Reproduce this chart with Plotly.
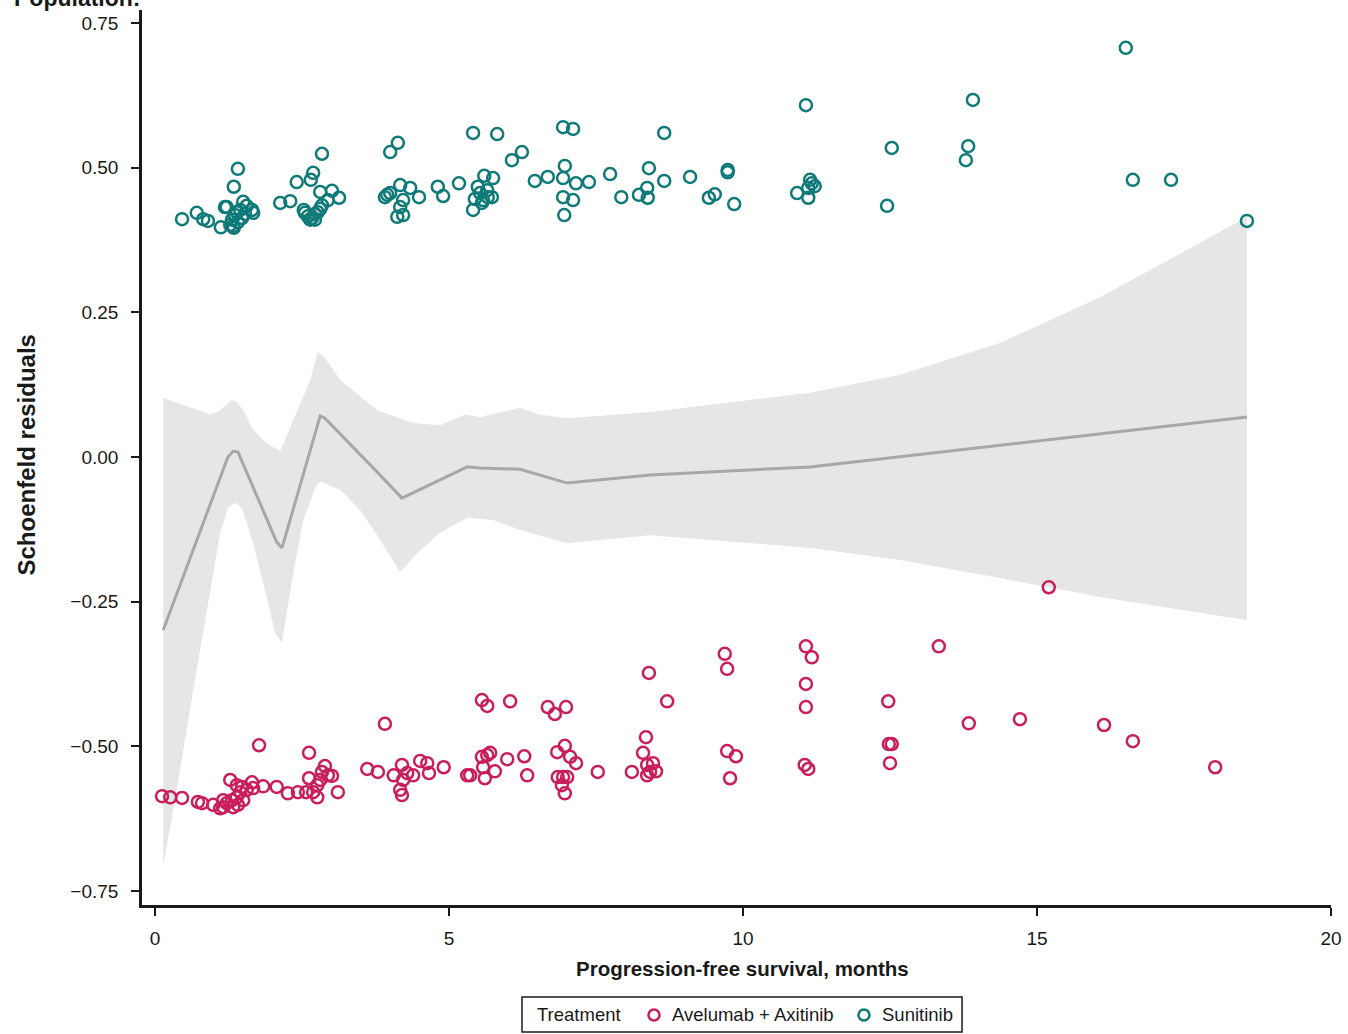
import plotly.graph_objects as go

# Schoenfeld residuals by treatment arm (x: PFS in months, y: residual)
avelumab_x = [0.12, 0.26, 0.46, 0.73, 0.80, 0.99, 1.16, 1.16, 1.28, 1.77,
              1.11, 1.22, 1.31, 1.39, 1.45, 1.33, 1.41, 1.50, 1.48, 1.56,
              1.65, 1.39, 1.67, 1.84, 2.07, 2.26, 2.43, 2.57, 2.62, 2.62,
              2.69, 2.76, 2.84, 2.89, 2.94, 3.01, 3.11, 2.76, 2.81, 3.61,
              3.79, 3.91, 4.06, 4.20, 4.22, 4.17, 4.20, 4.29, 4.39, 4.51,
              4.63, 4.66, 4.91, 5.31, 5.36, 5.56, 5.65, 5.70, 5.58, 5.78,
              5.61, 5.99, 6.28, 6.33, 5.56, 5.65, 6.04, 6.68, 6.80, 6.99,
              6.84, 6.97, 7.06, 7.16, 6.85, 6.94, 7.01, 6.92, 6.97, 7.53,
              8.11, 8.37, 8.47, 8.42, 8.52, 8.37, 8.40, 8.71, 8.35, 8.30,
              9.69, 9.73, 9.73, 9.88, 9.78, 11.07, 11.17, 11.07, 11.07, 11.05,
              11.11, 13.33, 12.47, 12.53, 12.48, 12.50, 13.84, 14.71, 15.20, 16.14,
              16.63, 18.03]
avelumab_y = [-0.586, -0.588, -0.589, -0.596, -0.598, -0.601, -0.605, -0.593, -0.558, -0.498,
              -0.607, -0.598, -0.593, -0.588, -0.579, -0.605, -0.601, -0.593, -0.570, -0.575,
              -0.562, -0.567, -0.572, -0.569, -0.570, -0.581, -0.579, -0.579, -0.511, -0.555,
              -0.579, -0.567, -0.544, -0.534, -0.550, -0.551, -0.579, -0.588, -0.558, -0.539,
              -0.544, -0.461, -0.550, -0.532, -0.558, -0.575, -0.584, -0.546, -0.550, -0.525,
              -0.529, -0.546, -0.536, -0.550, -0.550, -0.518, -0.515, -0.511, -0.536, -0.543,
              -0.555, -0.522, -0.517, -0.550, -0.420, -0.430, -0.422, -0.432, -0.444, -0.432,
              -0.510, -0.499, -0.518, -0.529, -0.553, -0.553, -0.553, -0.567, -0.581, -0.544,
              -0.544, -0.532, -0.529, -0.544, -0.543, -0.550, -0.373, -0.422, -0.484, -0.511,
              -0.340, -0.366, -0.508, -0.517, -0.555, -0.327, -0.346, -0.392, -0.432, -0.532,
              -0.539, -0.327, -0.422, -0.496, -0.496, -0.529, -0.460, -0.453, -0.225, -0.463,
              -0.491, -0.536]

sunitinib_x = [0.46, 0.71, 0.82, 0.90, 1.19, 1.12, 1.34, 1.41, 1.22, 1.50,
               1.56, 1.65, 1.67, 1.28, 1.31, 1.36, 1.39, 1.45, 1.34, 1.41,
               1.48, 1.53, 1.33, 2.13, 2.30, 2.41, 2.65, 2.69, 2.84, 2.53,
               2.55, 2.60, 2.67, 2.72, 2.77, 2.81, 2.84, 2.64, 2.72, 2.81,
               3.01, 3.13, 2.94, 4.00, 4.13, 3.95, 3.91, 4.00, 4.17, 4.34,
               4.49, 4.22, 4.17, 4.12, 4.22, 4.81, 4.90, 5.17, 5.41, 5.82,
               6.07, 6.24, 5.60, 5.75, 5.49, 5.53, 5.44, 5.66, 5.73, 5.41,
               5.58, 5.65, 5.56, 6.46, 6.68, 6.94, 7.11, 6.97, 6.94, 6.94,
               7.11, 7.16, 7.38, 6.96, 7.74, 7.93, 8.23, 8.37, 8.38, 8.40,
               8.66, 8.66, 9.10, 9.42, 9.52, 9.74, 9.74, 9.85, 10.92, 11.07,
               11.14, 11.17, 11.11, 11.22, 11.11, 12.45, 12.53, 13.79, 13.83, 13.91,
               16.51, 16.63, 17.28, 18.57]
sunitinib_y = [0.411, 0.422, 0.411, 0.408, 0.432, 0.397, 0.467, 0.498, 0.432, 0.441,
               0.434, 0.427, 0.422, 0.401, 0.410, 0.418, 0.423, 0.427, 0.396, 0.406,
               0.413, 0.420, 0.399, 0.439, 0.442, 0.475, 0.479, 0.491, 0.524, 0.427,
               0.422, 0.416, 0.413, 0.420, 0.423, 0.429, 0.435, 0.410, 0.410, 0.458,
               0.460, 0.448, 0.444, 0.527, 0.543, 0.453, 0.449, 0.456, 0.470, 0.465,
               0.449, 0.444, 0.432, 0.415, 0.418, 0.467, 0.451, 0.473, 0.560, 0.558,
               0.513, 0.527, 0.486, 0.482, 0.467, 0.456, 0.446, 0.449, 0.449, 0.427,
               0.444, 0.461, 0.439, 0.477, 0.484, 0.570, 0.567, 0.503, 0.482, 0.449,
               0.444, 0.473, 0.475, 0.418, 0.489, 0.449, 0.453, 0.465, 0.448, 0.499,
               0.560, 0.477, 0.484, 0.448, 0.454, 0.496, 0.492, 0.437, 0.456, 0.608,
               0.479, 0.473, 0.465, 0.468, 0.448, 0.434, 0.534, 0.513, 0.537, 0.617,
               0.707, 0.479, 0.479, 0.408]

# Smoothed residual trend and its confidence band
smooth_x = [0.14, 1.24, 1.33, 1.41, 2.07, 2.16, 2.81, 2.89, 3.78, 4.20,
            5.31, 5.53, 6.21, 7.01, 8.42, 11.14, 18.57]
smooth_y = [-0.299, 0.000, 0.010, 0.009, -0.147, -0.157, 0.071, 0.067, -0.026, -0.071,
            -0.017, -0.019, -0.021, -0.045, -0.031, -0.017, 0.069]

upper_x = [0.14, 0.94, 1.07, 1.31, 1.39, 1.50, 1.67, 1.90, 2.13, 2.41,
           2.64, 2.77, 2.89, 3.15, 3.78, 4.39, 4.85, 5.27, 5.53, 6.21,
           6.55, 7.01, 8.42, 11.14, 12.67, 14.37, 16.07, 17.77, 18.57]
upper_y = [0.102, 0.074, 0.078, 0.099, 0.095, 0.081, 0.047, 0.024, 0.010, 0.076,
           0.133, 0.181, 0.171, 0.133, 0.081, 0.059, 0.055, 0.073, 0.069, 0.085,
           0.073, 0.067, 0.078, 0.111, 0.142, 0.197, 0.276, 0.370, 0.415]
lower_x = [0.14, 0.34, 0.68, 1.11, 1.24, 1.36, 1.48, 1.67, 1.90, 2.04,
           2.16, 2.33, 2.52, 2.76, 2.84, 3.15, 3.49, 3.83, 4.17, 4.46,
           4.85, 5.31, 5.75, 6.21, 7.01, 8.42, 11.14, 12.67, 14.37, 16.07, 18.57]
lower_y = [-0.705, -0.593, -0.385, -0.131, -0.088, -0.079, -0.088, -0.149, -0.242, -0.304,
           -0.321, -0.213, -0.109, -0.045, -0.043, -0.057, -0.092, -0.143, -0.199, -0.166,
           -0.131, -0.105, -0.109, -0.126, -0.149, -0.135, -0.157, -0.178, -0.209, -0.242, -0.282]

x_ticks = [0, 5, 10, 15, 20]
y_ticks = [0.75, 0.50, 0.25, 0.00, -0.25, -0.50, -0.75]
y_tick_text = ["0.75", "0.50", "0.25", "0.00", "\u22120.25", "\u22120.50", "\u22120.75"]

legend_title = "Treatment"
arm_names = ["Avelumab + Axitinib", "Sunitinib"]

CRIMSON = "#c91e5a"
TEAL = "#0f7a78"
INK = "#1a1a1a"
FONT = "Liberation Sans, Arial, sans-serif"

fig = go.Figure()

fig.add_trace(go.Scatter(
    x=upper_x + lower_x[::-1], y=upper_y + lower_y[::-1],
    fill="toself", fillcolor="#e6e6e6", line=dict(width=0),
    mode="lines", showlegend=False, hoverinfo="skip"))

fig.add_trace(go.Scatter(
    x=smooth_x, y=smooth_y, mode="lines",
    line=dict(color="#a7a7a9", width=3), showlegend=False))

for name, xs, ys, col in [(arm_names[0], avelumab_x, avelumab_y, CRIMSON),
                          (arm_names[1], sunitinib_x, sunitinib_y, TEAL)]:
    fig.add_trace(go.Scatter(
        x=xs, y=ys, mode="markers", name=name, showlegend=False,
        marker=dict(symbol="circle-open", size=12, color=col, line=dict(width=2.5, color=col))))

# Boxed horizontal legend below the x-axis title (paper coordinates)
legend_mid_y = -0.1229
rx, ry = 0.00463, 0.00615
shapes = [dict(type="rect", xref="paper", yref="paper", x0=0.3196, x1=0.6897,
               y0=-0.1419, y1=-0.1028, line=dict(color=INK, width=1.5), fillcolor="white")]
legend_notes = [dict(text=legend_title, xref="paper", yref="paper", x=0.3305, y=legend_mid_y,
                     xanchor="left", yanchor="middle", showarrow=False, font=dict(size=18.5))]
for cx, tx, name, col in [(0.4306, 0.4441, arm_names[0], CRIMSON),
                          (0.6072, 0.6207, arm_names[1], TEAL)]:
    shapes.append(dict(type="circle", xref="paper", yref="paper",
                       x0=cx - rx, x1=cx + rx, y0=legend_mid_y - ry, y1=legend_mid_y + ry,
                       line=dict(color=col, width=2.5)))
    legend_notes.append(dict(text=name, xref="paper", yref="paper", x=tx, y=legend_mid_y,
                             xanchor="left", yanchor="middle", showarrow=False,
                             font=dict(size=18.5)))

fig.update_layout(
    width=1348, height=1034,
    margin=dict(l=142, r=17, t=10, b=129, autoexpand=False),
    paper_bgcolor="white", plot_bgcolor="white",
    font=dict(family=FONT, size=19, color=INK),
    showlegend=False,
    xaxis=dict(
        range=[-0.221, 20.0], tickvals=x_ticks, showgrid=False, zeroline=False,
        showline=True, linecolor=INK, linewidth=2.5,
        ticks="outside", ticklen=8, tickwidth=2, tickcolor=INK,
        tickfont=dict(size=19), ticklabelstandoff=6),
    yaxis=dict(
        range=[-0.774, 0.7724], tickvals=y_ticks, ticktext=y_tick_text,
        showgrid=False, zeroline=False,
        showline=True, linecolor=INK, linewidth=2.5,
        ticks="outside", ticklen=8, tickwidth=2, tickcolor=INK,
        tickfont=dict(size=19), ticklabelstandoff=9),
    shapes=shapes,
    annotations=[
        dict(text="<b>Schoenfeld residuals</b>", xref="paper", yref="paper",
             x=-0.097, y=0.503, xanchor="center", yanchor="middle",
             textangle=-90, showarrow=False, font=dict(size=24)),
        dict(text="<b>Progression-free survival, months</b>", xref="paper", yref="paper",
             x=0.505, y=-0.0704, xanchor="center", yanchor="middle",
             showarrow=False, font=dict(size=20.5)),
        dict(text="<b>Population:</b>", xref="paper", yref="paper",
             x=-0.109, y=1, xanchor="left", yanchor="bottom", yshift=-3,
             showarrow=False, font=dict(size=23)),
    ] + legend_notes,
)

fig.write_html("out.html")
